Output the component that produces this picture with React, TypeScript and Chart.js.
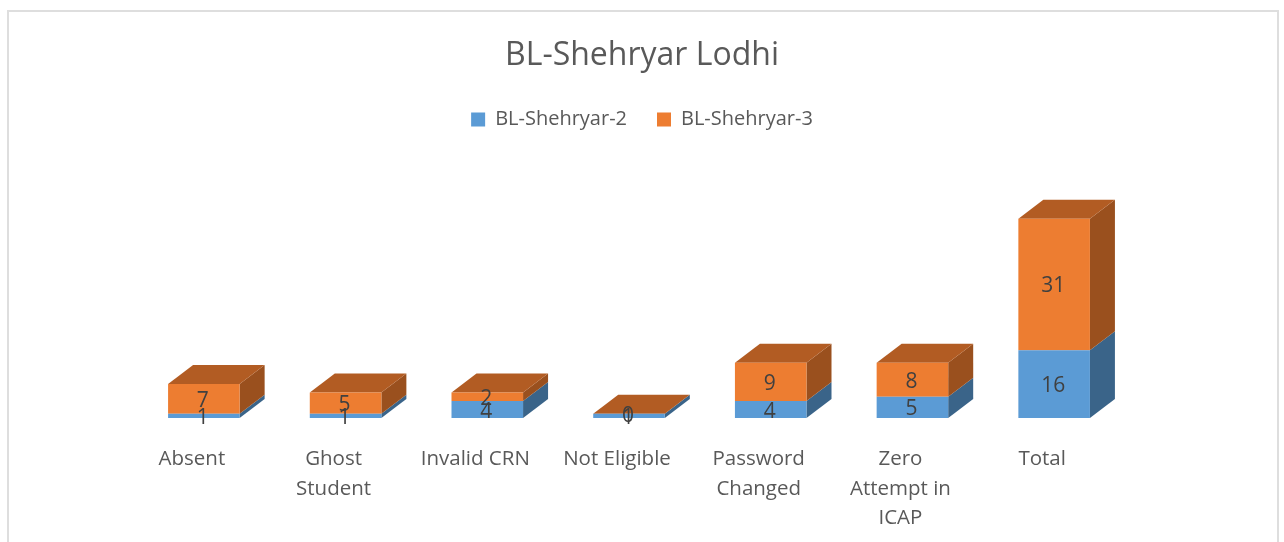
import React, { useEffect, useRef } from "react";
import { Chart, registerables } from "chart.js";

Chart.register(...registerables);

const titleText = "BL-Shehryar Lodhi";
const categories: (string | string[])[] = [
  "Absent",
  ["Ghost", "Student"],
  "Invalid CRN",
  "Not Eligible",
  ["Password", "Changed"],
  ["Zero", "Attempt in", "ICAP"],
  "Total",
];
const series2Values = [1, 1, 4, 1, 4, 5, 16];
const series3Values = [7, 5, 2, 0, 9, 8, 31];
const seriesNames = ["BL-Shehryar-2", "BL-Shehryar-3"];
const frontColors = ["#5B9BD5", "#ED7D31"];
const sideColors = ["#3A6489", "#9A501E"];
const topColor = "#B25C23";
const FONT = "'Open Sans', sans-serif";
const DEPTH_X = 25;
const DEPTH_Y = 19;

function quad(ctx: CanvasRenderingContext2D, pts: number[][], color: string) {
  ctx.beginPath();
  ctx.moveTo(pts[0][0], pts[0][1]);
  for (let i = 1; i < pts.length; i++) ctx.lineTo(pts[i][0], pts[i][1]);
  ctx.closePath();
  ctx.fillStyle = color;
  ctx.fill();
}

const box3d = {
  id: "box3d",
  beforeDatasetsDraw(chart: any) {
    const { ctx } = chart;
    ctx.save();
    chart.data.datasets.forEach((_: any, di: number) => {
      chart.getDatasetMeta(di).data.forEach((el: any) => {
        const p = el.getProps(["x", "y", "base", "width"], true);
        const right = p.x + p.width / 2;
        if (Math.abs(p.base - p.y) > 0) {
          quad(
            ctx,
            [
              [right, p.y],
              [right + DEPTH_X, p.y - DEPTH_Y],
              [right + DEPTH_X, p.base - DEPTH_Y],
              [right, p.base],
            ],
            sideColors[di],
          );
        }
        if (di === chart.data.datasets.length - 1) {
          const left = p.x - p.width / 2;
          quad(
            ctx,
            [
              [left, p.y],
              [left + DEPTH_X, p.y - DEPTH_Y],
              [right + DEPTH_X, p.y - DEPTH_Y],
              [right, p.y],
            ],
            topColor,
          );
        }
      });
    });
    ctx.restore();
  },
  afterDatasetsDraw(chart: any) {
    const { ctx } = chart;
    ctx.save();
    ctx.font = `21px ${FONT}`;
    ctx.fillStyle = "#404040";
    ctx.textAlign = "center";
    ctx.textBaseline = "middle";
    chart.data.datasets.forEach((ds: any, di: number) => {
      chart.getDatasetMeta(di).data.forEach((el: any, i: number) => {
        const p = el.getProps(["x", "y", "base"], true);
        ctx.fillText(String(ds.data[i]), p.x - 1, (p.y + p.base) / 2 + 2);
      });
    });
    ctx.restore();
  },
};

export default function App() {
  const ref = useRef<HTMLCanvasElement>(null);
  useEffect(() => {
    const chart = new Chart(ref.current!, {
      type: "bar",
      data: {
        labels: categories as any,
        datasets: [
          { label: seriesNames[0], data: series2Values, backgroundColor: frontColors[0] },
          { label: seriesNames[1], data: series3Values, backgroundColor: frontColors[1] },
        ],
      },
      plugins: [box3d as any],
      options: {
        animation: false,
        responsive: false,
        layout: { padding: { left: 133, right: 133, top: 37, bottom: 0 } },
        datasets: { bar: { categoryPercentage: 1, barPercentage: 0.505 } } as any,
        plugins: {
          title: {
            display: true,
            text: titleText,
            color: "#595959",
            font: { family: FONT, size: 32, weight: "normal" },
            padding: { top: 0, bottom: 4 },
          },
          legend: {
            display: true,
            position: "top",
            labels: {
              color: "#595959",
              font: { family: FONT, size: 20 },
              boxWidth: 14,
              boxHeight: 14,
              padding: 30,
            },
          },
          tooltip: { enabled: false },
        },
        scales: {
          x: {
            stacked: true,
            grid: { display: false },
            border: { display: false },
            ticks: {
              color: "#595959",
              font: { family: FONT, size: 20.5, lineHeight: 1.42 },
              autoSkip: false,
              maxRotation: 0,
              minRotation: 0,
              padding: 19,
              labelOffset: -12,
            },
            afterFit(scale: any) {
              scale.height = 124;
            },
          },
          y: {
            stacked: true,
            position: "right",
            min: 0,
            max: 65.7,
            grid: { display: false },
            border: { display: false },
            ticks: { display: false },
            afterFit(scale: any) {
              scale.width = 26;
            },
          },
        },
      },
    });
    return () => chart.destroy();
  }, []);
  return (
    <div style={{ position: "fixed", left: 0, top: 0, width: 1284, height: 542, overflow: "hidden", background: "#fff" }}>
      <div
        style={{
          position: "absolute",
          left: 7,
          top: 10,
          width: 1268,
          height: 600,
          border: "2px solid #DEDEDE",
        }}
      />
      <canvas ref={ref} width={1284} height={542} style={{ position: "absolute", left: 0, top: 0 }} />
    </div>
  );
}
